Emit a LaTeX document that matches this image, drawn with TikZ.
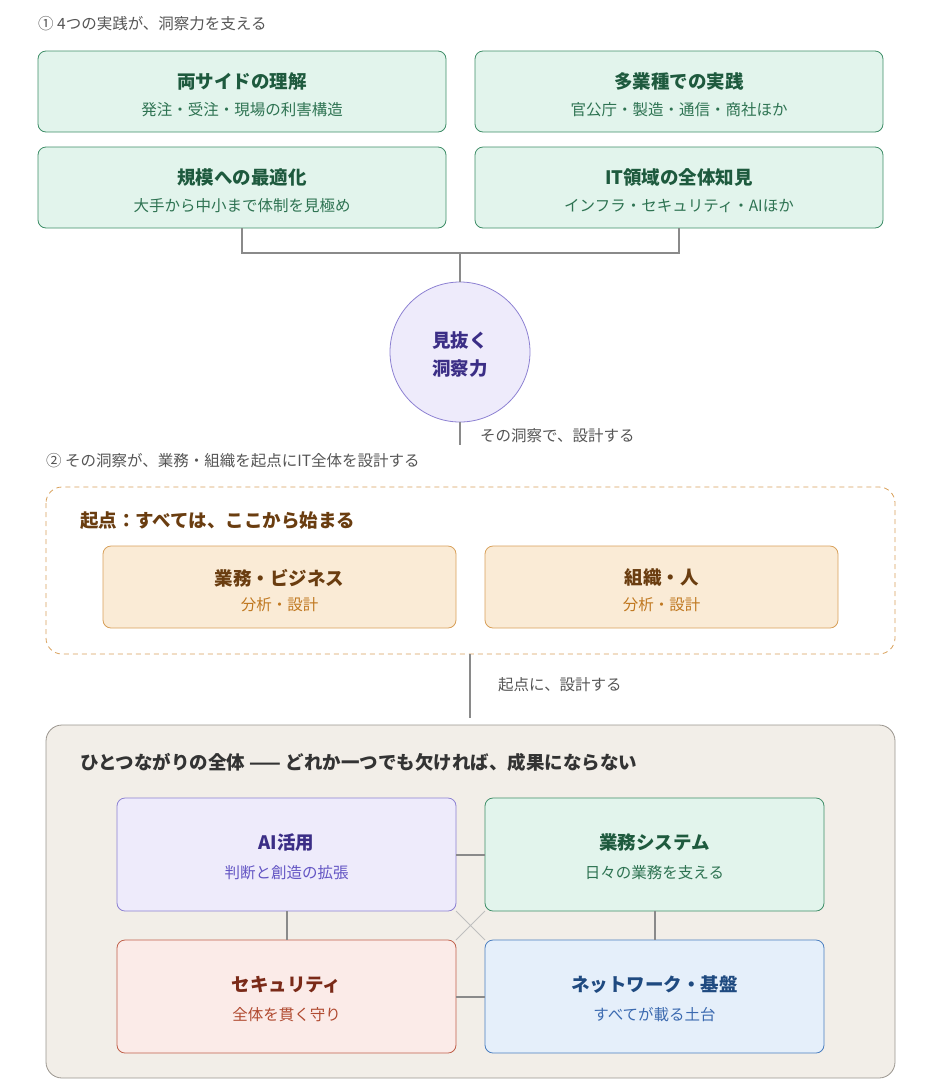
\documentclass[tikz,border=0pt]{standalone}
\usepackage{fontspec}
\setmainfont{Noto Sans CJK JP}
\usetikzlibrary{positioning}
\definecolor{gbg}{HTML}{E2F4EC}\definecolor{gbd}{HTML}{3F8E68}\definecolor{gtx}{HTML}{1E5A3E}\definecolor{gsub}{HTML}{2E7352}
\definecolor{pbg}{HTML}{EEEBFB}\definecolor{pbd}{HTML}{8C80D2}\definecolor{ptx}{HTML}{3B2E86}\definecolor{psub}{HTML}{6355C4}
\definecolor{obg}{HTML}{FAEBD6}\definecolor{obd}{HTML}{D8A05A}\definecolor{otx}{HTML}{6A3D10}\definecolor{osub}{HTML}{C07820}
\definecolor{rbg}{HTML}{FBEBE8}\definecolor{rbd}{HTML}{C0604A}\definecolor{rtx}{HTML}{7A2A18}\definecolor{rsub}{HTML}{B04A30}
\definecolor{bbg}{HTML}{E5EFFA}\definecolor{bbd}{HTML}{4A7EC0}\definecolor{btx}{HTML}{1F4A80}\definecolor{bsub}{HTML}{3B6AB0}
\definecolor{big}{HTML}{F2EEE8}\definecolor{bigbd}{HTML}{9A958E}\definecolor{gry}{HTML}{555555}\definecolor{ln}{HTML}{8A8A8A}
\tikzset{
 box/.style={draw, rounded corners=8pt, line width=0.8pt},
 ttl/.style={font=\fontsize{18.5}{22}\selectfont\bfseries, anchor=center},
 sub/.style={font=\fontsize{15.5}{18}\selectfont, anchor=center},
 lbl/.style={font=\fontsize{15.5}{18}\selectfont, text=gry, anchor=west, inner sep=0pt},
 conn/.style={draw=ln, line width=1.2pt}
}
\newcommand{\card}[9]{%
 \draw[box, fill=#6bg, draw=#6bd] (#2,#3) rectangle (#4,#5);
 \node[coordinate] (#1) at ({(#2+#4)/2},{(#3+#5)/2}) {};
 \node[ttl, text=#6tx] at ({(#2+#4)/2},{(#3+#5)/2-#9}) {#7};
 \node[sub, text=#6sub] at ({(#2+#4)/2},{(#3+#5)/2+18}) {#8};
}
\begin{document}
\begin{tikzpicture}[x=1pt,y=-1pt]
\useasboundingbox (0,0) rectangle (930,1080);
\node[lbl] (c1) at (38,24) {① 4つの実践が、洞察力を支える};
\card{a}{38}{51}{446}{132}{g}{両サイドの理解}{発注・受注・現場の利害構造}{10}
\card{b}{475}{51}{883}{132}{g}{多業種での実践}{官公庁・製造・通信・商社ほか}{10}
\card{c}{38}{147}{446}{228}{g}{規模への最適化}{大手から中小まで体制を見極め}{10}
\card{d}{475}{147}{883}{228}{g}{IT領域の全体知見}{インフラ・セキュリティ・AIほか}{10}
\coordinate (cb) at (242,228); \coordinate (db) at (679,228);
\coordinate (j1) at (242,253); \coordinate (j2) at (679,253); \coordinate (jm) at (460,253);
\node[circle, draw=pbd, fill=pbg, line width=0.8pt, minimum size=140pt, inner sep=0pt] (e) at (460,352) {};
\node[ttl, text=ptx, align=center, font=\fontsize{18.5}{28}\selectfont\bfseries] at (460,355) {見抜く\\洞察力};
\draw[conn] (cb) -- (j1) -- (j2) -- (db);
\draw[conn] (jm) -- (e.north);
\coordinate (e2) at (460,445);
\draw[conn] (e.south) -- (e2);
\node[lbl] (l1) at (480,436) {その洞察で、設計する};
\node[lbl] (c2) at (46,461) {② その洞察が、業務・組織を起点にIT全体を設計する};
\draw[draw=obd, dashed, dash pattern=on 5pt off 4pt, rounded corners=16pt, line width=0.8pt] (46,487) rectangle (895,654);
\node[lbl, text=otx, font=\fontsize{18.5}{22}\selectfont\bfseries] (t2) at (80,521) {起点：すべては、ここから始まる};
\card{f}{103}{546}{456}{628}{o}{業務・ビジネス}{分析・設計}{9}
\card{g}{485}{546}{838}{628}{o}{組織・人}{分析・設計}{9}
\coordinate (k1) at (470,654); \coordinate (k2) at (470,718);
\draw[conn] (k1) -- (k2);
\node[lbl] (l2) at (498,685) {起点に、設計する};
\draw[box, fill=big, draw=bigbd, rounded corners=16pt] (46,725) rectangle (895,1078);
\node[lbl, text=black!80, font=\fontsize{18.5}{22}\selectfont\bfseries] (t3) at (80,762) {ひとつながりの全体 —— どれか一つでも欠ければ、成果にならない};
\card{h}{117}{798}{456}{911}{p}{AI活用}{判断と創造の拡張}{12}
\card{i}{485}{798}{824}{911}{g}{業務システム}{日々の業務を支える}{12}
\card{j}{117}{940}{456}{1053}{r}{セキュリティ}{全体を貫く守り}{12}
\card{k}{485}{940}{824}{1053}{b}{ネットワーク・基盤}{すべてが載る土台}{12}
\draw[conn] (456,855) -- (485,855);
\draw[conn] (456,997) -- (485,997);
\draw[conn] (287,911) -- (287,940);
\draw[conn] (655,911) -- (655,940);
\draw[draw=black!25, line width=1pt] (456,911) -- (485,940) (485,911) -- (456,940);
\end{tikzpicture}
\end{document}
